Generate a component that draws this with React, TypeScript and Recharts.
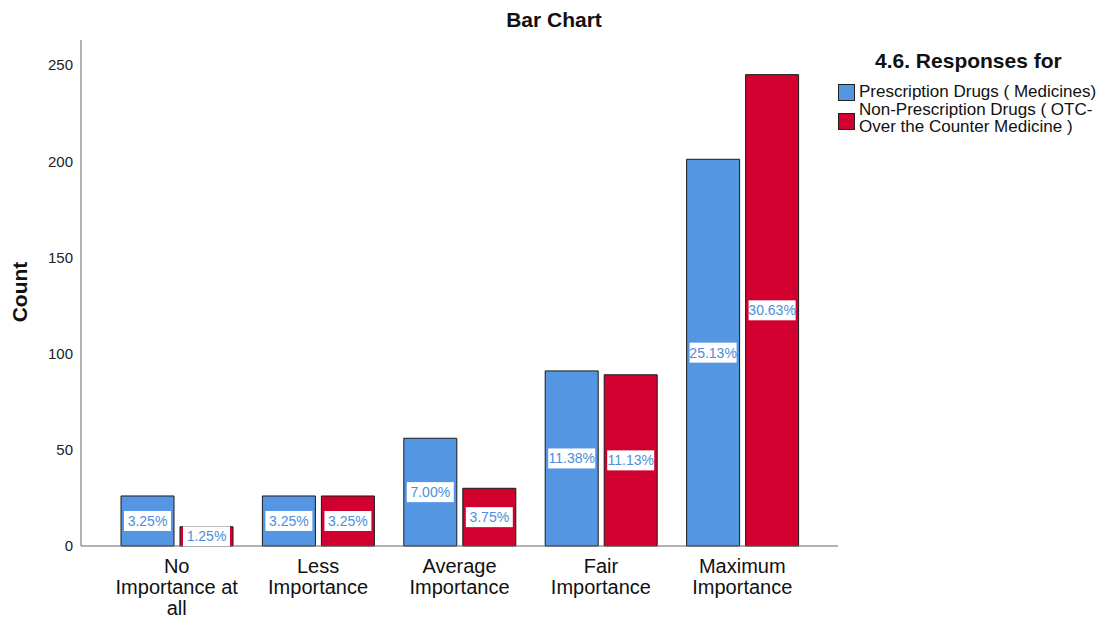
import { BarChart, Bar, XAxis, YAxis, LabelList } from "recharts";

const categories = [
  "No\nImportance at\nall",
  "Less\nImportance",
  "Average\nImportance",
  "Fair\nImportance",
  "Maximum\nImportance",
];
const prescription = [26, 26, 56, 91, 201];
const nonPrescription = [10, 26, 30, 89, 245];
const yTicks = [0, 50, 100, 150, 200, 250];

const TOTAL = 800;
const BLUE = "#5596e3";
const RED = "#d2002f";
const FONT = "'Liberation Sans', Arial, sans-serif";

const data = categories.map((name, i) => ({
  name,
  rx: prescription[i],
  otc: nonPrescription[i],
}));

// percent of all responses, rounded half-up to 2 decimals
const pct = (v: number) => (Math.round((v * 10000) / TOTAL) / 100).toFixed(2) + "%";

const PctLabel = (props: any) => {
  const { x, y, width, height, value } = props;
  const cy = y + height / 2;
  return (
    <g>
      <rect x={x + 3} y={cy - 10} width={width - 6} height={20} fill="#fff" />
      <text
        x={x + width / 2}
        y={cy + 5}
        textAnchor="middle"
        fontSize={14}
        fontFamily={FONT}
        fill="#4a8fdc"
      >
        {pct(value)}
      </text>
    </g>
  );
};

const CategoryTick = (props: any) => {
  const { x, y, payload } = props;
  const lines = String(payload.value).split("\n");
  return (
    <text x={x} y={y} textAnchor="middle" fontSize={20} fontFamily={FONT} fill="#111">
      {lines.map((l, i) => (
        <tspan key={i} x={x} dy={i === 0 ? 19 : 21}>
          {l}
        </tspan>
      ))}
    </text>
  );
};

const swatch = (color: string, top: number) => (
  <div
    style={{
      position: "absolute",
      left: 838,
      top,
      width: 15,
      height: 15,
      background: color,
      border: "1px solid #222",
    }}
  />
);

export default function App() {
  return (
    <div style={{ position: "absolute", left: 0, top: 0, width: 1102, height: 617, background: "#fff", fontFamily: FONT, color: "#111" }}>
      <div
        style={{
          position: "absolute",
          top: 8,
          left: 0,
          width: 1108,
          textAlign: "center",
          fontWeight: "bold",
          fontSize: 21,
        }}
      >
        Bar Chart
      </div>
      <div style={{ position: "absolute", left: 875, top: 49, fontWeight: "bold", fontSize: 21 }}>
        4.6. Responses for
      </div>
      {swatch(BLUE, 84)}
      <div style={{ position: "absolute", left: 859, top: 83, fontSize: 17, lineHeight: "17px" }}>
        Prescription Drugs ( Medicines)
      </div>
      {swatch(RED, 113)}
      <div style={{ position: "absolute", left: 859, top: 101, fontSize: 17, lineHeight: "17px" }}>
        Non-Prescription Drugs ( OTC-
        <br />
        Over the Counter Medicine )
      </div>
      <BarChart
        width={1102}
        height={617}
        data={data}
        margin={{ top: 40, right: 264, bottom: 0, left: 0 }}
        barSize={53}
        barGap={6}
        style={{ position: "absolute", left: 0, top: 0 }}
      >
        <XAxis
          dataKey="name"
          interval={0}
          tickLine={false}
          stroke="#666"
          padding={{ left: 25, right: 25 }}
          tick={<CategoryTick />}
          height={71}
        />
        <YAxis
          domain={[0, 263]}
          ticks={yTicks}
          tickLine={false}
          stroke="#666"
          width={81}
          tick={{ fontSize: 15, fill: "#222", fontFamily: FONT }}
          label={() => (
            <text
              x={27}
              y={292}
              transform="rotate(-90 27 292)"
              textAnchor="middle"
              fontSize={21}
              fontWeight="bold"
              fontFamily={FONT}
              fill="#111"
            >
              Count
            </text>
          )}
        />
        <Bar dataKey="rx" fill={BLUE} stroke="#1a1a1a" strokeWidth={1} isAnimationActive={false}>
          <LabelList dataKey="rx" content={<PctLabel />} />
        </Bar>
        <Bar dataKey="otc" fill={RED} stroke="#1a1a1a" strokeWidth={1} isAnimationActive={false}>
          <LabelList dataKey="otc" content={<PctLabel />} />
        </Bar>
      </BarChart>
    </div>
  );
}
